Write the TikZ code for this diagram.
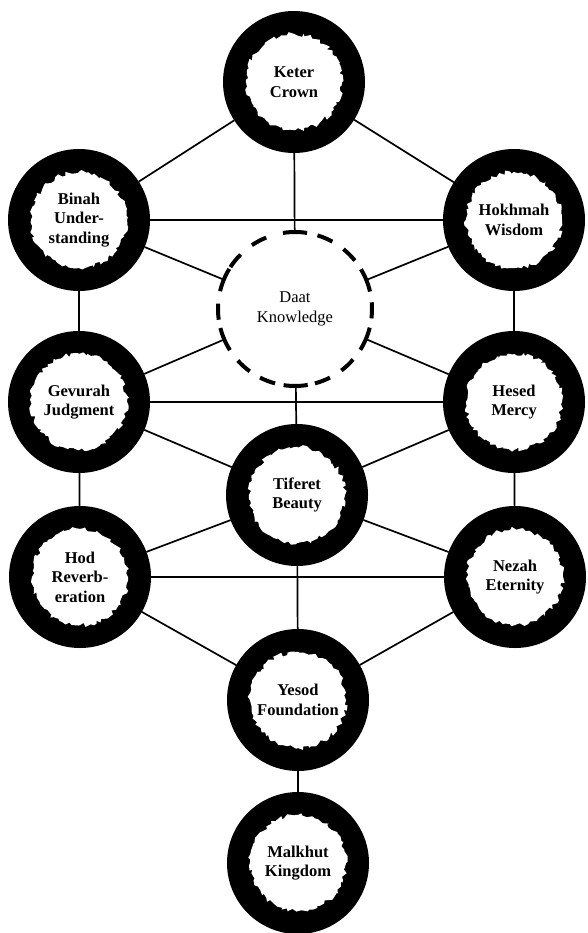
\documentclass[tikz,border=0pt]{standalone}
\usepackage{fontspec}
\setmainfont{Liberation Serif}
\usetikzlibrary{decorations.pathmorphing}
\begin{document}
\begin{tikzpicture}[x=1pt,y=-1pt,
  ring/.style={circle, fill=black, minimum size=142pt, inner sep=0pt, outer sep=0pt},
  blob/.style={fill=white, decorate, decoration={random steps, segment length=3pt, amplitude=2.2pt}},
  sefiratext/.style={font=\bfseries\fontsize{16.5}{19.5}\selectfont, align=center, text=black, inner sep=0pt},
  link/.style={line width=1.7pt, black},
  daatring/.style={circle, minimum size=154pt, inner sep=0pt, outer sep=0pt},
  dashseg/.style={line width=4pt, black},
]
\fill[white] (0,0) rectangle (588,933);
\useasboundingbox (0,0) rectangle (588,933);

\foreach \n/\x/\y/\t in {
  keter/294/82/{Keter\\Crown},
  binah/79/220/{Binah\\Under-\\standing},
  hokhmah/514/220/{Hokhmah\\Wisdom},
  gevurah/79/402/{Gevurah\\Judgment},
  hesed/514/402/{Hesed\\Mercy},
  tiferet/297/495/{Tiferet\\Beauty},
  hod/80/577/{Hod\\Reverb-\\eration},
  nezah/515/577/{Nezah\\Eternity},
  yesod/298/700/{Yesod\\Foundation},
  malkhut/298/863/{Malkhut\\Kingdom}}
{
  \node[ring] (\n) at (\x,\y) {};
  \fill[blob] (\x,\y) circle (48pt);
  \node[sefiratext] (\n-t) at (\x,\y) {\t};
}

% Daat
\node[daatring] (daat) at (295,309) {};
\node[sefiratext, font=\fontsize{16.5}{19.5}\selectfont] (daat-t) at (295,309) {Daat\\Knowledge};
\foreach \a in {118,141,182,228,249,291,313,359,45,67}
  \draw[dashseg] ([shift={(\a-6:77pt)}]daat.center) arc[start angle=\a-6, end angle=\a+6, radius=77pt];
\foreach \a in {90,157.6,203.3,270.5,337,22.1}
  \draw[dashseg] ([shift={(\a-9:77pt)}]daat.center) arc[start angle=\a-9, end angle=\a+9, radius=77pt];

% connectors
\foreach \a/\b in {keter/binah, keter/hokhmah, keter/daat, binah/hokhmah,
  binah/daat, hokhmah/daat, binah/gevurah, hokhmah/hesed, gevurah/daat,
  hesed/daat, daat/tiferet, gevurah/hesed, gevurah/tiferet, hesed/tiferet,
  gevurah/hod, hesed/nezah, hod/tiferet, nezah/tiferet, hod/nezah,
  tiferet/yesod, hod/yesod, nezah/yesod, yesod/malkhut}
  \draw[link] (\a) -- (\b);
\end{tikzpicture}
\end{document}
